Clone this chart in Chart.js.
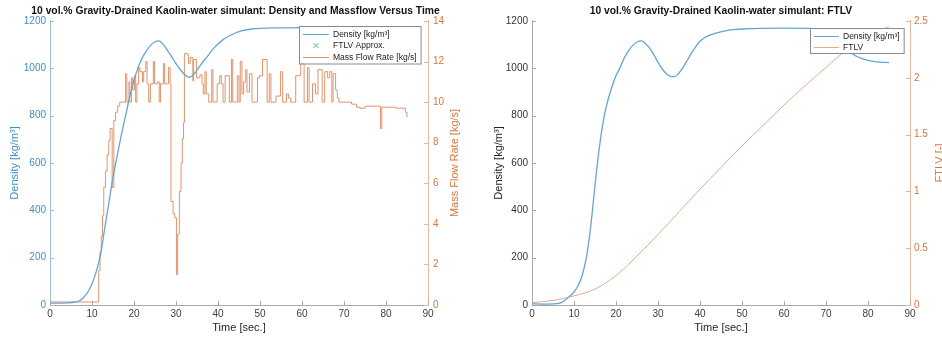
<!DOCTYPE html>
<html>
<head>
<meta charset="utf-8">
<script src="https://cdn.jsdelivr.net/npm/chart.js@4.4.1/dist/chart.umd.min.js"></script>
<style>
  body { margin: 0; background: #fff; width: 942px; height: 337px; overflow: hidden; display: flex; }
  canvas { display: block; }
</style>
</head>
<body>
<canvas id="flowChart" width="471" height="337"></canvas>
<canvas id="ftlvChart" width="471" height="337"></canvas>
<script>
// Values

// left plot: density (smooth) and mass flow (noisy, stepped)
const densityTimeL = [0, 2, 4, 6, 7, 8, 9, 10, 11, 12, 13, 14, 15, 16, 17, 18, 19, 20, 21, 22, 23, 24, 25, 26, 27, 28, 29, 30, 31, 32, 33, 34, 35, 36, 37, 38, 39, 40, 41, 42, 44, 46, 48, 50, 55, 60, 70, 80, 85];
const densityL = [8, 8, 9, 12, 18, 32, 55, 90, 140, 210, 320, 430, 540, 630, 720, 800, 880, 950, 1005, 1045, 1075, 1098, 1112, 1116, 1100, 1075, 1048, 1020, 995, 975, 962, 970, 992, 1018, 1040, 1062, 1085, 1103, 1118, 1130, 1148, 1160, 1166, 1169, 1171, 1172, 1172, 1172, 1172];

const flowTime = [0, 11.6, 11.9, 12.2, 12.5, 12.8, 13.2, 13.6, 14.0, 14.3, 14.8, 15.2, 15.6, 16.1, 16.6,
  18.0, 18.3, 18.8, 19.0, 19.4, 19.7, 20.1, 20.4, 20.7, 21.1, 21.4, 22.0, 22.3, 22.8, 23.1, 23.5, 23.9, 24.6, 24.9, 25.6, 26.0, 26.3, 27.0, 27.3, 28.2, 28.6,
  28.8, 29.3, 29.7, 30.1, 30.4, 30.8, 31.2, 31.5, 31.8,
  32.0, 32.8, 33.0, 33.4, 34.0, 34.2, 34.9, 35.7, 36.2, 36.5, 36.9, 37.2, 37.8, 38.5, 38.8, 39.8, 40.4, 40.8, 41.2, 41.7, 42.7, 43.2, 43.5, 44.6, 45.0,
  45.3, 45.7, 46.1, 46.6, 46.9, 47.5, 48.1, 49.4, 49.9, 50.6, 51.7, 52.2, 52.6, 53.8, 54.9, 55.4, 56.3, 56.8, 57.3, 58.5, 59.7, 60.5, 61.3, 61.7, 62.5,
  63.2, 63.8, 64.8, 65.4, 66.1, 66.6, 67.1, 67.4, 68.0, 68.4, 68.8,
  71.8, 73.0, 73.8, 75.0, 78.7, 79.0, 82.4, 84.6, 85.0];
const flowRate = [0.15, 1.7, 2.6, 3.4, 4.4, 5.8, 6.6, 7.4, 8.1, 8.7, 5.8, 9.1, 9.5, 9.8, 10.0,
  11.4, 10.0, 11.0, 10.0, 11.2, 10.6, 11.3, 10.0, 10.9, 11.7, 11.5, 11.0, 11.5, 12.0, 10.9, 10.0, 10.9, 12.0, 10.9, 11.0, 10.0, 10.9, 11.9, 10.9, 11.7, 10.9,
  5.1, 4.5, 4.3, 1.5, 3.5, 5.6, 7.0, 8.2, 9.0,
  12.4, 12.3, 11.9, 12.2, 11.05, 12.1, 11.2, 11.35, 10.9, 10.4, 11.5, 10.4, 10.0, 11.6, 10.0, 10.9, 11.3, 10.9, 10.0, 11.3, 10.0, 12.1, 10.0, 11.3, 10.0,
  12.0, 10.4, 11.0, 11.6, 10.5, 11.4, 10.0, 11.2, 11.3, 12.1, 10.0, 11.4, 10.0, 10.3, 11.5, 10.0, 10.4, 10.2, 10.0, 11.3, 11.9, 10.0, 11.7, 10.0, 10.9,
  10.4, 11.6, 10.0, 11.5, 11.2, 11.5, 10.0, 11.4, 10.6, 10.2, 10.0,
  9.9, 9.75, 9.7, 9.8, 8.7, 9.75, 9.7, 9.5, 9.25];

// right plot: density and FTLV
const densityTimeR = [0, 2, 4, 6, 7, 8, 9, 10, 11, 12, 13, 14, 15, 16, 17, 18, 19, 20, 21, 22, 23, 24, 25, 26, 27, 28, 29, 30, 31, 32, 33, 34, 35, 36, 37, 38, 39, 40, 41, 42, 44, 46, 48, 50, 60, 67, 70, 73, 76, 78, 80, 82, 85];
const densityR = [5, 4, 4, 6, 10, 22, 38, 55, 82, 128, 205, 335, 505, 660, 780, 860, 920, 968, 1005, 1045, 1075, 1097, 1111, 1116, 1105, 1085, 1058, 1025, 997, 977, 966, 965, 980, 1005, 1035, 1065, 1092, 1114, 1128, 1138, 1150, 1158, 1163, 1166, 1170, 1168, 1160, 1125, 1065, 1045, 1033, 1027, 1024];

const ftlvTime = [0, 5, 10, 15, 20, 25, 30, 35, 40, 45, 50, 55, 60, 65, 70, 75, 80, 85];
const ftlv = [0.02, 0.04, 0.08, 0.14, 0.26, 0.43, 0.62, 0.82, 1.02, 1.21, 1.40, 1.58, 1.76, 1.93, 2.09, 2.25, 2.37, 2.45];

const FONT = "'Liberation Sans', Arial, sans-serif";
const BLUE = '#62a6d1';
const BLUE_TXT = '#3f8fc4';
const ORANGE = '#e0946c';
const ORANGE_LIGHT = '#e3aa8a';
const ORANGE_TXT = '#d6773f';

function pairs(xs, ys) {
  return xs.map((x, i) => ({ x: x, y: ys[i] }));
}

// MATLAB style ticks pointing into the plot
const inwardTicks = {
  id: 'inwardTicks',
  afterDatasetsDraw(chart) {
    const { ctx, chartArea } = chart;
    ctx.save();
    ctx.lineWidth = 1;
    Object.values(chart.scales).forEach(scale => {
      ctx.strokeStyle = scale.options.border.color;
      scale.ticks.forEach(tick => {
        const p = Math.round(scale.getPixelForValue(tick.value)) + 0.5;
        ctx.beginPath();
        if (scale.axis === 'x') {
          ctx.moveTo(p, chartArea.bottom);
          ctx.lineTo(p, chartArea.bottom - 4);
        } else if (scale.position === 'left') {
          ctx.moveTo(chartArea.left, p);
          ctx.lineTo(chartArea.left + 4, p);
        } else {
          ctx.moveTo(chartArea.right, p);
          ctx.lineTo(chartArea.right - 4, p);
        }
        ctx.stroke();
      });
    });
    ctx.restore();
  }
};

// legend box inside the plot, top right
const boxLegend = {
  id: 'boxLegend',
  afterDatasetsDraw(chart, args, opts) {
    const { ctx, chartArea } = chart;
    const items = chart.data.datasets;
    ctx.save();
    ctx.font = opts.fontSize + 'px ' + FONT;
    const textW = Math.max(...items.map(d => ctx.measureText(d.label).width));
    const w = 4 + opts.sample + 4 + textW + 4;
    const h = items.length * opts.rowHeight + 3;
    const x = Math.round(chartArea.right - opts.insetX - w);
    const y = Math.round(chartArea.top + opts.insetY);
    ctx.fillStyle = '#fff';
    ctx.fillRect(x, y, w, h);
    ctx.strokeStyle = '#8a8a8a';
    ctx.lineWidth = 1;
    ctx.strokeRect(x + 0.5, y + 0.5, w, h);
    items.forEach((d, i) => {
      const cy = Math.round(y + 2 + opts.rowHeight * (i + 0.5)) + 0.5;
      const sx = x + 4;
      ctx.strokeStyle = d.borderColor;
      ctx.lineWidth = 1;
      ctx.beginPath();
      if (d.pointStyle === 'crossRot') {
        const cx = sx + opts.sample / 2;
        ctx.moveTo(cx - 2.5, cy - 2.5); ctx.lineTo(cx + 2.5, cy + 2.5);
        ctx.moveTo(cx - 2.5, cy + 2.5); ctx.lineTo(cx + 2.5, cy - 2.5);
      } else {
        ctx.moveTo(sx, cy);
        ctx.lineTo(sx + opts.sample, cy);
      }
      ctx.stroke();
      ctx.fillStyle = '#222';
      ctx.textBaseline = 'middle';
      ctx.textAlign = 'left';
      ctx.fillText(d.label, sx + opts.sample + 4, cy);
    });
    ctx.restore();
  }
};

// right axis title, read bottom to top as in the original
const rightTitle = {
  id: 'rightTitle',
  afterDraw(chart, args, opts) {
    const { ctx, chartArea } = chart;
    const scale = chart.scales.y1;
    ctx.save();
    ctx.translate(scale.right - opts.offset, (chartArea.top + chartArea.bottom) / 2);
    ctx.rotate(-Math.PI / 2);
    ctx.font = '11px ' + FONT;
    ctx.fillStyle = opts.color;
    ctx.textAlign = 'center';
    ctx.textBaseline = 'middle';
    ctx.fillText(opts.text, 0, 0);
    ctx.restore();
  }
};

function xAxis() {
  return {
    type: 'linear', min: 0, max: 90,
    ticks: { stepSize: 10, color: '#404040', font: { family: FONT, size: 10 }, padding: 3, maxRotation: 0 },
    grid: { drawOnChartArea: false, drawTicks: false },
    border: { color: '#a8a8a8' },
    title: { display: true, text: 'Time [sec.]', color: '#262626', font: { family: FONT, size: 11 }, padding: { top: 0, bottom: 2.4 } },
    afterFit: s => { s.height = 32; }
  };
}

function chartTitle(text, fullSize) {
  return {
    display: true, text: text, fullSize: fullSize, color: '#111',
    font: { family: FONT, size: 10.3, weight: 'bold' },
    padding: { top: 5, bottom: 3.6 }
  };
}

const plainNumber = v => String(v);

new Chart(document.getElementById('flowChart'), {
  type: 'line',
  data: {
    datasets: [
      { label: 'Density [kg/m³]', data: pairs(densityTimeL, densityL), yAxisID: 'y', borderColor: BLUE, borderWidth: 1.3, cubicInterpolationMode: 'monotone' },
      { label: 'FTLV Approx.', data: [], yAxisID: 'y', borderColor: BLUE, pointStyle: 'crossRot', showLine: false },
      { label: 'Mass Flow Rate [kg/s]', data: pairs(flowTime, flowRate), yAxisID: 'y1', borderColor: ORANGE, borderWidth: 1, stepped: 'before' }
    ]
  },
  options: {
    responsive: false,
    animation: false,
    layout: { padding: 0 },
    elements: { point: { radius: 0 } },
    plugins: {
      legend: { display: false },
      tooltip: { enabled: false },
      title: chartTitle('10 vol.% Gravity-Drained Kaolin-water simulant: Density and Massflow Versus Time', true),
      boxLegend: { fontSize: 8.5, sample: 26, rowHeight: 11.5, insetX: 7, insetY: 5 },
      rightTitle: { text: 'Mass Flow Rate [kg/s]', color: ORANGE_TXT, offset: 16 }
    },
    scales: {
      x: xAxis(),
      y: {
        position: 'left', min: 0, max: 1200,
        ticks: { stepSize: 200, color: BLUE_TXT, font: { family: FONT, size: 10 }, padding: 4, callback: plainNumber },
        grid: { drawOnChartArea: false, drawTicks: false },
        border: { color: '#9dbdd4' },
        title: { display: true, text: 'Density [kg/m³]', color: BLUE_TXT, font: { family: FONT, size: 11 }, padding: { top: 8.4, bottom: 0 } },
        afterFit: s => { s.width = 50; }
      },
      y1: {
        position: 'right', min: 0, max: 14,
        ticks: { stepSize: 2, color: ORANGE_TXT, font: { family: FONT, size: 10 }, padding: 5, callback: plainNumber },
        grid: { drawOnChartArea: false, drawTicks: false },
        border: { color: '#e8b89e' },
        afterFit: s => { s.width = 43; }
      }
    }
  },
  plugins: [inwardTicks, boxLegend, rightTitle]
});

new Chart(document.getElementById('ftlvChart'), {
  type: 'line',
  data: {
    datasets: [
      { label: 'Density [kg/m³]', data: pairs(densityTimeR, densityR), yAxisID: 'y', borderColor: BLUE, borderWidth: 1.3, cubicInterpolationMode: 'monotone' },
      { label: 'FTLV', data: pairs(ftlvTime, ftlv), yAxisID: 'y1', borderColor: ORANGE_LIGHT, borderWidth: 1, cubicInterpolationMode: 'monotone' }
    ]
  },
  options: {
    responsive: false,
    animation: false,
    layout: { padding: 0 },
    elements: { point: { radius: 0 } },
    plugins: {
      legend: { display: false },
      tooltip: { enabled: false },
      title: chartTitle('10 vol.% Gravity-Drained Kaolin-water simulant: FTLV', false),
      boxLegend: { fontSize: 8.5, sample: 25, rowHeight: 11, insetX: 6, insetY: 7 },
      rightTitle: { text: 'FTLV [-]', color: ORANGE_TXT, offset: 2 }
    },
    scales: {
      x: xAxis(),
      y: {
        position: 'left', min: 0, max: 1200,
        ticks: { stepSize: 200, color: '#333', font: { family: FONT, size: 10 }, padding: 4, callback: plainNumber },
        grid: { drawOnChartArea: false, drawTicks: false },
        border: { color: '#a8a8a8' },
        title: { display: true, text: 'Density [kg/m³]', color: '#222', font: { family: FONT, size: 11 }, padding: { top: 21, bottom: 0 } },
        afterFit: s => { s.width = 61; }
      },
      y1: {
        position: 'right', min: 0, max: 2.5,
        ticks: { stepSize: 0.5, color: ORANGE_TXT, font: { family: FONT, size: 10 }, padding: 4, callback: plainNumber },
        grid: { drawOnChartArea: false, drawTicks: false },
        border: { color: '#e8b89e' },
        afterFit: s => { s.width = 32; }
      }
    }
  },
  plugins: [inwardTicks, boxLegend, rightTitle]
});
</script>
</body>
</html>
